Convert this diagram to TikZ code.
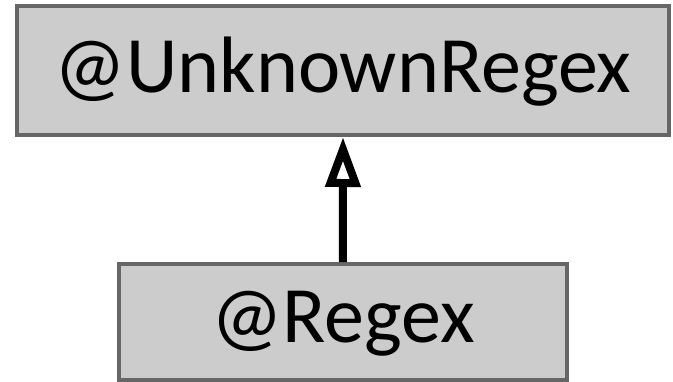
\documentclass[tikz,border=0pt]{standalone}
\usepackage{fontspec}
\setmainfont{Carlito}
\usetikzlibrary{arrows.meta}
\definecolor{boxfill}{HTML}{CCCCCC}
\definecolor{boxline}{HTML}{666666}
\tikzset{
  classbox/.style={draw=boxline, fill=boxfill, line width=4pt, inner sep=0pt,
    font=\fontsize{80}{88}\selectfont, text height=60pt},
  inherit/.style={line width=8pt, -{Triangle[open, length=50pt, width=34pt]}}
}
\begin{document}
\begin{tikzpicture}[x=1pt, y=-1pt]
\useasboundingbox (0,0) rectangle (673,381);
\node[classbox, minimum width=652pt, minimum height=129pt, text depth=17pt] (top) at (343,70.5) {@UnknownRegex};
\node[classbox, minimum width=448pt, minimum height=116pt, text depth=20pt] (bot) at (342.8,322) {@Regex};
\draw[inherit] (bot.north) -- (top.south);
\end{tikzpicture}
\end{document}
